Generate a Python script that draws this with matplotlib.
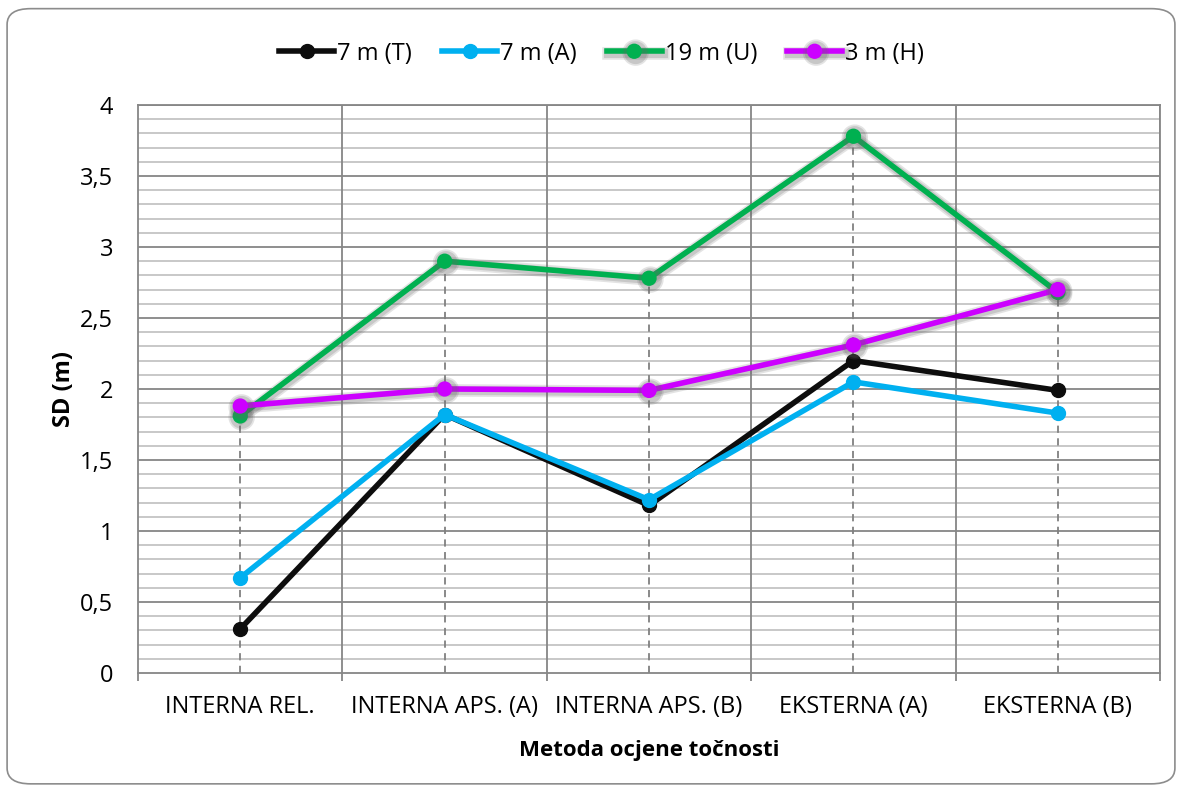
import matplotlib
matplotlib.use("Agg")
import matplotlib.pyplot as plt
import matplotlib.patheffects as pe
from matplotlib.patches import FancyBboxPatch
import numpy as np

plt.rcParams['font.family'] = ['Open Sans', 'DejaVu Sans']

categories = ["INTERNA REL.", "INTERNA APS. (A)", "INTERNA APS. (B)", "EKSTERNA (A)", "EKSTERNA (B)"]
sd_7m_T = [0.31, 1.82, 1.18, 2.20, 1.99]
sd_7m_A = [0.67, 1.82, 1.22, 2.05, 1.83]
sd_19m_U = [1.81, 2.90, 2.78, 3.78, 2.68]
sd_3m_H = [1.88, 2.00, 1.99, 2.31, 2.70]

series = [
    ("7 m (T)", sd_7m_T, "#0d0d0d", False),
    ("7 m (A)", sd_7m_A, "#00b0f0", False),
    ("19 m (U)", sd_19m_U, "#00b050", True),
    ("3 m (H)", sd_3m_H, "#cc00ff", True),
]

fig = plt.figure(figsize=(11.82, 7.87), dpi=100)
ax = fig.add_axes([0.1168, 0.1449, 0.8646, 0.7217])

x = np.arange(len(categories))

# minor/major horizontal grid
for v in np.arange(0.1, 4.0001, 0.1):
    major = abs(v * 2 - round(v * 2)) < 1e-6
    ax.axhline(v, color="#868686" if major else "#bfbfbf", lw=1.3 if major else 1.2, zorder=0)
# vertical grid between categories
for xv in np.arange(0.5, len(categories) - 0.4, 1):
    ax.axvline(xv, color="#868686", lw=1.3, zorder=0)

# drop lines
tops = np.max(np.vstack([sd_7m_T, sd_7m_A, sd_19m_U, sd_3m_H]), axis=0)
ax.vlines(x, 0, tops, colors="#808080", linestyles=(0, (4, 3)), lw=1.3, zorder=1)

for name, vals, col, shadow in series:
    effects = None
    if shadow:
        effects = [pe.SimpleLineShadow(offset=(1, -1), shadow_color="#666666", alpha=0.18, linewidth=9),
                   pe.SimpleLineShadow(offset=(1, -1), shadow_color="#666666", alpha=0.22, linewidth=6.5),
                   pe.Normal()]
    ax.plot(x, vals, color=col, lw=4, marker="o", ms=10, label=name,
            path_effects=effects, zorder=3)

ax.set_xlim(-0.5, len(categories) - 0.5)
ax.set_ylim(0, 4)
ax.set_xticks(x)
ax.set_xticklabels(categories, fontsize=17)
ax.set_xticks(np.arange(-0.5, len(categories), 1), minor=True)
ax.set_yticks(np.arange(0, 4.01, 0.5))
ax.set_yticklabels(["0", "0,5", "1", "1,5", "2", "2,5", "3", "3,5", "4"], fontsize=17)
ax.tick_params(axis="x", which="major", length=0, pad=16)
ax.tick_params(axis="x", which="minor", length=6, width=1.3, color="#868686", direction="out")
ax.tick_params(axis="y", length=0, pad=18)
for s in ax.spines.values():
    s.set_color("#868686")
    s.set_linewidth(1.3)

ax.set_ylabel("SD (m)", fontsize=17, fontweight="bold", labelpad=3)
ax.set_xlabel("Metoda ocjene točnosti", fontsize=16, fontweight="bold", labelpad=15)

fig.legend(*ax.get_legend_handles_labels(), loc="center", bbox_to_anchor=(0.509, 0.932),
           ncol=4, frameon=False, fontsize=17, handlelength=2.33, handletextpad=0.13,
           columnspacing=1.27, borderpad=0)

border = FancyBboxPatch((0.006, 0.004), 0.988, 0.985, boxstyle="round,pad=0,rounding_size=0.02",
                        transform=fig.transFigure, fill=False, edgecolor="#8c8c8c", lw=1.2)
fig.patches.append(border)

fig.savefig("out.png", dpi=100)
